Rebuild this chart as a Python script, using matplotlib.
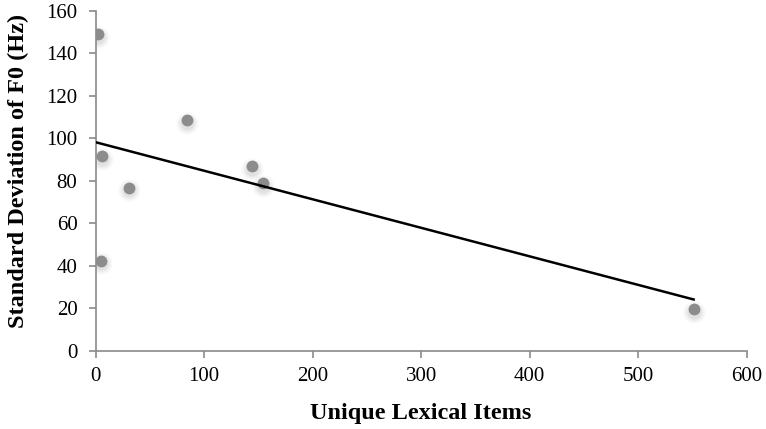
import numpy as np
import matplotlib
matplotlib.use('Agg')
import matplotlib.pyplot as plt

# values
unique_items = [2, 5.7, 31, 84.6, 144, 154, 4.8, 551]
sd_f0 = [149, 91.6, 76.7, 108.6, 87, 79, 42.4, 19.5]
x_ticks = [0, 100, 200, 300, 400, 500, 600]
y_ticks = [0, 20, 40, 60, 80, 100, 120, 140, 160]

plt.rcParams['font.family'] = ['Liberation Serif', 'DejaVu Serif']

fig = plt.figure(figsize=(7.66, 4.29), dpi=100)
ax = fig.add_axes([0.1247, 0.1825, 0.8503, 0.7925])

x = np.array(unique_items)
y = np.array(sd_f0)

# blurry drop shadow under the markers (stacked faint circles, shifted down a bit)
shadow_dy = -1.3
for size, alpha in [(260, 0.05), (190, 0.07), (135, 0.09), (95, 0.11)]:
    ax.scatter(x, y + shadow_dy, s=size, color='#9a9a9a', alpha=alpha,
               linewidths=0, zorder=2)
ax.scatter(x, y, s=72, color='#8c8c8c', linewidths=0, zorder=3)

# linear trendline over the data range
slope, intercept = np.polyfit(x, y, 1)
x_line = np.array([0, x.max()])
ax.plot(x_line, slope * x_line + intercept, color='black', linewidth=1.8, zorder=4)

ax.set_xlim(0, 600)
ax.set_ylim(0, 160)
ax.set_xticks(x_ticks)
ax.set_yticks(y_ticks)

for side in ['top', 'right']:
    ax.spines[side].set_visible(False)
for side in ['left', 'bottom']:
    ax.spines[side].set_color('#8a8a8a')
    ax.spines[side].set_linewidth(1.2)
ax.tick_params(axis='both', direction='out', length=5, width=1.2, color='#8a8a8a',
               labelsize=15, labelcolor='black')
ax.tick_params(axis='x', pad=7)
ax.tick_params(axis='y', pad=8)

ax.set_xlabel('Unique Lexical Items', fontsize=17.5, fontweight='bold', labelpad=12)
ax.set_ylabel('Standard Deviation of F0 (Hz)', fontsize=17.5, fontweight='bold')
ax.yaxis.set_label_coords(-0.102, 0.53)

fig.savefig('out.png', dpi=100)
